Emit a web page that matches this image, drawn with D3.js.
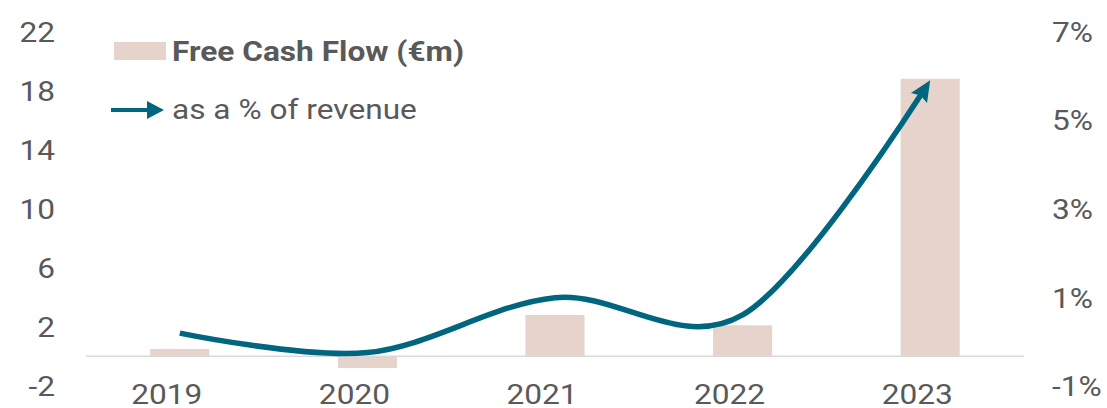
<!DOCTYPE html>
<html>
<head>
<meta charset="utf-8">
<script src="https://cdn.jsdelivr.net/npm/d3@7"></script>
<style>
  html, body { margin: 0; padding: 0; background: #fff; }
  svg { display: block; }
  text { font-family: Roboto, "Noto Sans", sans-serif; fill: #595959; }
</style>
</head>
<body>
<svg id="chart" width="1107" height="408"></svg>
<script>
// ---- data ----
const years = ["2019", "2020", "2021", "2022", "2023"];
const fcfValues = [0.5, -0.8, 2.8, 2.1, 18.8];          // Free Cash Flow (€m)
const pctValues = [0.19, -0.25, 0.99, 0.6, 5.9];        // as a % of revenue
const leftTicks = [-2, 2, 6, 10, 14, 18, 22];
const rightTicks = [-1, 1, 3, 5, 7];
const legendLabels = ["Free Cash Flow (€m)", "as a % of revenue"];

// ---- setup ----
const barColor = "#e6d3cc";
const lineColor = "#00667f";
const textColor = "#595959";
const fontSize = 28;
const stretch = 1.13;

const svg = d3.select("#chart");

const x = d3.scaleBand().domain(years).range([86, 1024]).padding(0);
const yL = d3.scaleLinear().domain([-2, 22]).range([385.8, 31.5]);
const yR = d3.scaleLinear().domain([-1, 7]).range([385.8, 31.5]);
const barW = x.bandwidth() * 0.315;

// bars
svg.append("g").selectAll("rect")
  .data(years.map((y, i) => ({ y, v: fcfValues[i] })))
  .join("rect")
  .attr("x", d => x(d.y) + x.bandwidth() / 2 - barW / 2)
  .attr("width", barW)
  .attr("y", d => Math.min(yL(d.v), yL(0)))
  .attr("height", d => Math.abs(yL(d.v) - yL(0)))
  .attr("fill", barColor);

// baseline
svg.append("line")
  .attr("x1", x.range()[0]).attr("x2", x.range()[1])
  .attr("y1", yL(0)).attr("y2", yL(0))
  .attr("stroke", "#d9d9d9").attr("stroke-width", 1.5);

// arrow markers
const defs = svg.append("defs");
defs.append("marker")
  .attr("id", "arrow")
  .attr("markerUnits", "userSpaceOnUse")
  .attr("viewBox", "-24 -11 26 22")
  .attr("refX", 0).attr("refY", 0)
  .attr("markerWidth", 26).attr("markerHeight", 22)
  .attr("orient", "auto")
  .append("path")
  .attr("d", "M0,0 L-21,-9.5 L-18,0 L-21,9.5 Z")
  .attr("fill", lineColor);
defs.append("marker")
  .attr("id", "legarrow")
  .attr("markerUnits", "userSpaceOnUse")
  .attr("viewBox", "-20 -10 22 20")
  .attr("refX", 0).attr("refY", 0)
  .attr("markerWidth", 22).attr("markerHeight", 20)
  .attr("orient", "auto")
  .append("path")
  .attr("d", "M0,0 L-17,-9 L-17,9 Z")
  .attr("fill", lineColor);

// line
const lineGen = d3.line()
  .x((d, i) => x(years[i]) + x.bandwidth() / 2)
  .y(d => yR(d))
  .curve(d3.curveCardinal.tension(0));

const path = svg.append("path")
  .attr("d", lineGen(pctValues))
  .attr("fill", "none")
  .attr("stroke", lineColor)
  .attr("stroke-width", 5.5)
  .attr("marker-end", "url(#arrow)");
const L = path.node().getTotalLength();
path.attr("stroke-dasharray", `${L - 15} ${L + 20}`);

// helper for stretched text
function stretchText(sel, dx) {
  sel.each(function () {
    const t = d3.select(this);
    const tx = +t.attr("x") || 0;
    t.attr("x", 0).attr("transform", `translate(${tx + (dx || 0)},0) scale(${stretch},1)`);
  });
}

// left axis
const gL = svg.append("g").attr("transform", "translate(55,0)")
  .call(d3.axisLeft(yL).tickValues(leftTicks).tickFormat(d => String(d)).tickSize(0).tickPadding(0));
gL.select(".domain").remove();
gL.selectAll("text").attr("font-size", fontSize).attr("font-family", null)
  .attr("fill", textColor).attr("text-anchor", "end").attr("dy", "0.35em");
stretchText(gL.selectAll("text"));

// right axis
const gR = svg.append("g").attr("transform", "translate(1052,0)")
  .call(d3.axisRight(yR).tickValues(rightTicks).tickFormat(d => String(d) + "%").tickSize(0).tickPadding(0));
gR.select(".domain").remove();
gR.selectAll("text").attr("font-size", fontSize).attr("font-family", null)
  .attr("fill", textColor).attr("text-anchor", "start").attr("dy", "0.35em");
stretchText(gR.selectAll("text"));

// bottom axis
const gB = svg.append("g").attr("transform", "translate(0,404)")
  .call(d3.axisBottom(x).tickSize(0).tickPadding(0));
gB.select(".domain").remove();
gB.selectAll("text").attr("font-size", fontSize).attr("font-family", null)
  .attr("fill", textColor).attr("y", 0).attr("dy", 0).attr("text-anchor", "middle");
stretchText(gB.selectAll("text"), -13);

// legend
const lg = svg.append("g");
lg.append("rect").attr("x", 114).attr("y", 42).attr("width", 52).attr("height", 18).attr("fill", barColor);
lg.append("text").attr("transform", `translate(172,61) scale(${stretch},1)`)
  .attr("font-size", fontSize).attr("font-weight", "bold").text(legendLabels[0]);
lg.append("line").attr("x1", 111).attr("x2", 164).attr("y1", 110).attr("y2", 110)
  .attr("stroke", lineColor).attr("stroke-width", 4).attr("stroke-dasharray", "40 100")
  .attr("marker-end", "url(#legarrow)");
lg.append("text").attr("transform", `translate(172,119) scale(${stretch},1)`)
  .attr("font-size", fontSize).text(legendLabels[1]);
</script>
</body>
</html>
